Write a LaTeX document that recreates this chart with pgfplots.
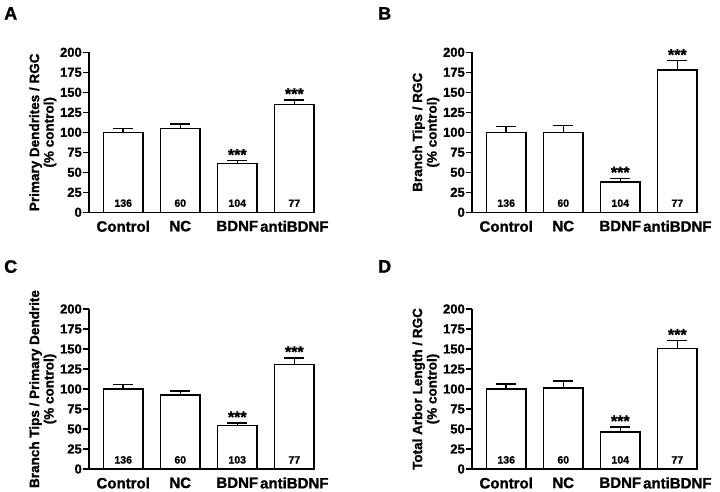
\documentclass[border=0pt]{standalone}
\usepackage{fontspec}
\setmainfont{Liberation Sans}[BoldFeatures={FakeBold=1.2}]
\usepackage{pgfplots}
\pgfplotsset{compat=1.18}
\pgfplotsset{
  panel/.style={
    scale only axis,
    clip=false,
    width=225pt, height=160pt,
    anchor=south west,
    xmin=-0.60, xmax=3.345,
    ymin=0, ymax=200,
    ytick={0,25,...,200},
    xtick={0,1,2,3},
    xticklabels={Control,NC,BDNF,antiBDNF},
    axis x line*=bottom, axis y line*=left,
    axis line style={line width=1.5pt},
    every tick/.style={line width=1.5pt, black},
    tick align=outside,
    major tick length=6pt,
    x tick style={draw=none},
    /pgf/number format/assume math mode=true,
    yticklabel style={font=\bfseries\fontsize{13}{13}\selectfont, inner sep=1pt},
    xticklabel style={font=\bfseries\fontsize{15}{15}\selectfont, yshift=1pt},
    ylabel style={font=\bfseries\fontsize{13.5}{14.5}\selectfont, align=center, inner sep=2.5pt},
    ybar, bar width=39.5pt, bar shift=0pt,
  },
  barst/.style={fill=white, draw=black, line width=1.5pt,
    error bars/.cd, y dir=plus, y explicit,
    error bar style={line width=1.5pt},
    error mark options={line width=1.5pt, mark size=10pt, rotate=90}},
}
\newcommand{\cnt}[2]{\node[anchor=base, font=\bfseries\fontsize{10.5}{10.5}\selectfont] at (axis cs:#1,0) [yshift=5.5pt] {#2};}
\newcommand{\stars}[2]{\node[anchor=base, font=\bfseries\fontsize{16}{16}\selectfont, inner sep=0pt] at (axis cs:#1,#2) [yshift=0.5pt] {***};}
\newcommand{\plab}[3]{\node[anchor=north west, inner sep=0pt, font=\bfseries\fontsize{18}{18}\selectfont] at (#1pt,#2pt) {#3};}
\begin{document}
\begin{tikzpicture}
\useasboundingbox (0,0) rectangle (720pt,491pt);
% Panel A
\begin{axis}[panel, at={(89pt,278.7pt)}, ylabel={Primary Dendrites / RGC\\(\% control)}]
\addplot[barst] coordinates {(0,100) +- (0,5) (1,105) +- (0,5.5) (2,61) +- (0,3.5) (3,134.6) +- (0,6)};
\cnt{0}{136}\cnt{1}{60}\cnt{2}{104}\cnt{3}{77}
\stars{2}{64.5}\stars{3}{140.6}
\end{axis}
% Panel B
\begin{axis}[panel, at={(472pt,278.7pt)}, ylabel={Branch Tips / RGC\\(\% control)}]
\addplot[barst] coordinates {(0,100) +- (0,7.5) (1,100) +- (0,8.5) (2,38) +- (0,4.5) (3,178) +- (0,11.5)};
\cnt{0}{136}\cnt{1}{60}\cnt{2}{104}\cnt{3}{77}
\stars{2}{42.5}\stars{3}{189.5}
\end{axis}
% Panel C
\begin{axis}[panel, at={(89pt,22pt)}, ylabel={Branch Tips / Primary Dendrite\\(\% control)}]
\addplot[barst] coordinates {(0,100) +- (0,5.5) (1,92.5) +- (0,5) (2,54.5) +- (0,3) (3,130.5) +- (0,8.5)};
\cnt{0}{136}\cnt{1}{60}\cnt{2}{103}\cnt{3}{77}
\stars{2}{57.5}\stars{3}{139}
\end{axis}
% Panel D
\begin{axis}[panel, at={(472pt,22pt)}, ylabel={Total Arbor Length / RGC\\(\% control)}]
\addplot[barst] coordinates {(0,100) +- (0,6.5) (1,101.5) +- (0,8.5) (2,46) +- (0,6.5) (3,150.5) +- (0,10)};
\cnt{0}{136}\cnt{1}{60}\cnt{2}{104}\cnt{3}{77}
\stars{2}{52.5}\stars{3}{160.5}
\end{axis}
\plab{4}{484}{A}
\plab{378}{484}{B}
\plab{4}{231}{C}
\plab{378}{231}{D}
\end{tikzpicture}
\end{document}
